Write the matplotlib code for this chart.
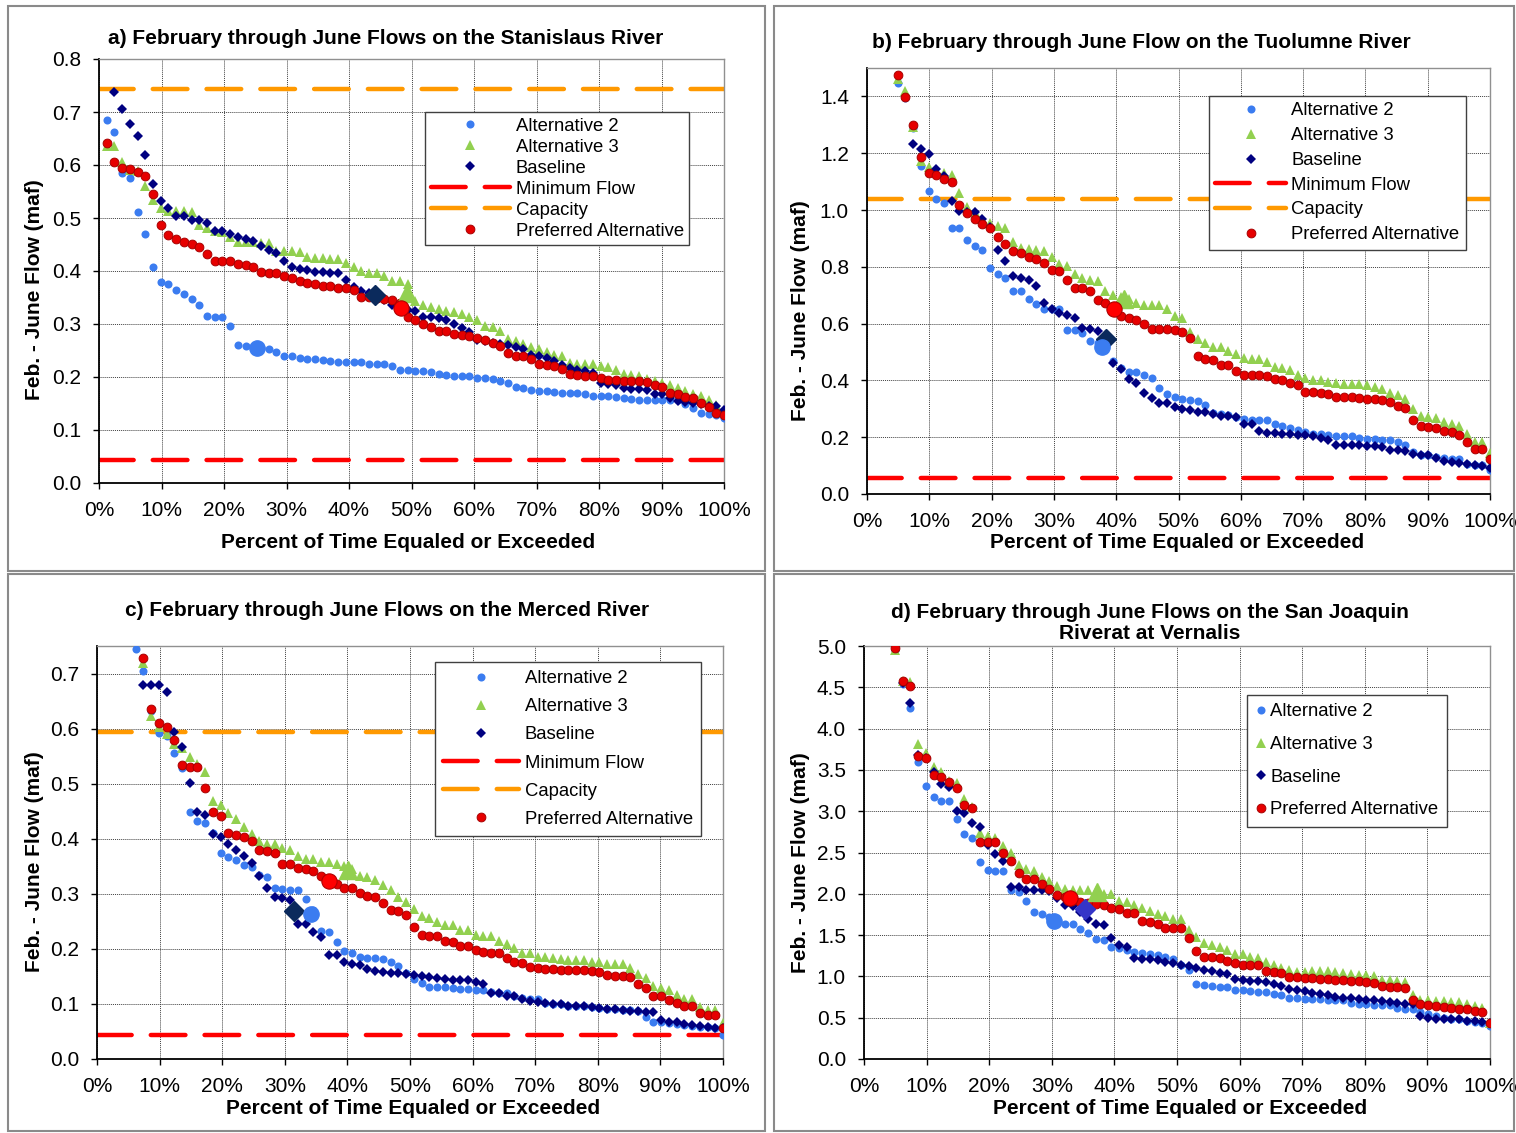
import numpy as np
import matplotlib.pyplot as plt
from matplotlib.patches import Rectangle

plt.rcParams['font.family'] = ['Liberation Sans', 'DejaVu Sans']

W, H = 1516, 1133
N_YEARS = 81          # years in the exceedance ranking, last rank = 100%

# ---------------- a) Stanislaus ----------------
a_alt2 = [0.684, 0.662, 0.584, 0.575, 0.511, 0.469, 0.408, 0.379, 0.375, 0.364,
          0.356, 0.347, 0.335, 0.316, 0.313, 0.313, 0.297, 0.260, 0.258, 0.256,
          0.254, 0.252, 0.248, 0.239, 0.239, 0.236, 0.234, 0.234, 0.233, 0.231,
          0.229, 0.228, 0.228, 0.228, 0.224, 0.224, 0.224, 0.221, 0.214, 0.213,
          0.211, 0.211, 0.209, 0.206, 0.203, 0.201, 0.201, 0.201, 0.199, 0.199,
          0.196, 0.193, 0.189, 0.181, 0.179, 0.176, 0.174, 0.173, 0.171, 0.170,
          0.169, 0.169, 0.167, 0.165, 0.165, 0.164, 0.162, 0.160, 0.159, 0.157,
          0.157, 0.157, 0.157, 0.156, 0.156, 0.149, 0.142, 0.132, 0.130, 0.128,
          0.123]
a_alt3 = [0.635, 0.635, 0.606, 0.590, 0.588, 0.561, 0.534, 0.519, 0.514, 0.514,
          0.514, 0.512, 0.486, 0.482, 0.475, 0.473, 0.465, 0.455, 0.454, 0.455,
          0.453, 0.452, 0.437, 0.438, 0.437, 0.436, 0.427, 0.425, 0.425, 0.422,
          0.422, 0.416, 0.408, 0.400, 0.396, 0.396, 0.391, 0.382, 0.381, 0.375,
          0.343, 0.336, 0.332, 0.328, 0.324, 0.322, 0.319, 0.313, 0.307, 0.296,
          0.294, 0.286, 0.272, 0.267, 0.262, 0.256, 0.252, 0.247, 0.242, 0.239,
          0.226, 0.225, 0.225, 0.225, 0.221, 0.219, 0.214, 0.206, 0.204, 0.201,
          0.196, 0.193, 0.189, 0.184, 0.179, 0.174, 0.167, 0.164, 0.156, 0.148,
          0.136]
a_base = [0.738, 0.706, 0.677, 0.655, 0.618, 0.565, 0.533, 0.518, 0.504,
          0.503, 0.496, 0.496, 0.491, 0.475, 0.475, 0.470, 0.465, 0.460, 0.457,
          0.448, 0.439, 0.434, 0.419, 0.408, 0.404, 0.401, 0.399, 0.399, 0.397,
          0.397, 0.383, 0.369, 0.362, 0.358, 0.352, 0.345, 0.336, 0.330, 0.326,
          0.324, 0.314, 0.313, 0.311, 0.307, 0.300, 0.292, 0.285, 0.269, 0.267,
          0.265, 0.262, 0.260, 0.257, 0.253, 0.242, 0.240, 0.235, 0.230, 0.223,
          0.217, 0.213, 0.211, 0.207, 0.189, 0.187, 0.184, 0.179, 0.177, 0.177,
          0.176, 0.168, 0.167, 0.160, 0.155, 0.152, 0.151, 0.149, 0.146, 0.145,
          0.138]
a_pref = [0.642, 0.606, 0.594, 0.593, 0.586, 0.580, 0.546, 0.487, 0.467, 0.461,
          0.454, 0.450, 0.445, 0.433, 0.419, 0.418, 0.418, 0.414, 0.411, 0.408,
          0.399, 0.397, 0.397, 0.391, 0.387, 0.382, 0.377, 0.376, 0.372, 0.371,
          0.368, 0.367, 0.364, 0.351, 0.350, 0.349, 0.347, 0.346, 0.340, 0.314,
          0.308, 0.300, 0.294, 0.287, 0.286, 0.281, 0.279, 0.278, 0.274, 0.269,
          0.264, 0.259, 0.245, 0.240, 0.239, 0.234, 0.225, 0.222, 0.221, 0.215,
          0.206, 0.203, 0.202, 0.201, 0.198, 0.195, 0.195, 0.193, 0.192, 0.192,
          0.191, 0.184, 0.182, 0.170, 0.167, 0.162, 0.160, 0.151, 0.143, 0.132,
          0.128]
# big markers (x %, y): alt2, alt3, baseline, preferred
a_big_x = [25.3, 49.3, 44.2, 48.3]
a_big_y = [0.254, 0.358, 0.355, 0.331]
a_min, a_cap = 0.044, 0.743

# ---------------- b) Tuolumne ----------------
b_alt2 = [1.446, 1.393, 1.287, 1.154, 1.068, 1.038, 1.024,
          0.937, 0.935, 0.894, 0.875, 0.860, 0.797, 0.776, 0.762, 0.715, 0.715,
          0.688, 0.668, 0.653, 0.650, 0.650, 0.579, 0.579, 0.567, 0.540, 0.530,
          0.520, 0.467, 0.442, 0.430, 0.430, 0.418, 0.410, 0.373, 0.352, 0.343,
          0.336, 0.332, 0.328, 0.312, 0.285, 0.280, 0.277, 0.272, 0.263, 0.260,
          0.260, 0.260, 0.245, 0.238, 0.234, 0.224, 0.218, 0.213, 0.210, 0.207,
          0.204, 0.204, 0.204, 0.197, 0.195, 0.195, 0.191, 0.189, 0.183, 0.174,
          0.148, 0.136, 0.136, 0.130, 0.127, 0.124, 0.122, 0.107, 0.103, 0.101,
          0.083]
b_alt3 = [1.461, 1.419, 1.293, 1.172, 1.150, 1.134, 1.132,
          1.125, 1.060, 1.009, 0.994, 0.970, 0.955, 0.945, 0.935, 0.888, 0.867,
          0.861, 0.859, 0.855, 0.833, 0.809, 0.802, 0.776, 0.759, 0.753, 0.749,
          0.715, 0.700, 0.692, 0.688, 0.674, 0.667, 0.667, 0.665, 0.653, 0.627,
          0.621, 0.571, 0.547, 0.533, 0.518, 0.518, 0.503, 0.494, 0.480, 0.477,
          0.474, 0.465, 0.447, 0.444, 0.436, 0.420, 0.410, 0.403, 0.403, 0.395,
          0.392, 0.389, 0.389, 0.386, 0.383, 0.377, 0.371, 0.356, 0.348, 0.336,
          0.298, 0.275, 0.271, 0.269, 0.254, 0.248, 0.240, 0.213, 0.183, 0.183,
          0.144]
b_base = [1.233, 1.214, 1.196, 1.143, 1.119,
          1.031, 0.997, 0.994, 0.994, 0.967, 0.940, 0.858, 0.821, 0.768, 0.761,
          0.755, 0.733, 0.673, 0.653, 0.638, 0.629, 0.621, 0.586, 0.580, 0.574,
          0.550, 0.462, 0.439, 0.404, 0.392, 0.356, 0.338, 0.322, 0.322, 0.307,
          0.301, 0.297, 0.289, 0.287, 0.280, 0.275, 0.274, 0.271, 0.248, 0.245,
          0.222, 0.216, 0.215, 0.213, 0.210, 0.209, 0.207, 0.203, 0.197, 0.189,
          0.174, 0.174, 0.171, 0.171, 0.169, 0.169, 0.166, 0.154, 0.154, 0.151,
          0.142, 0.136, 0.136, 0.127, 0.116, 0.113, 0.110, 0.107, 0.101, 0.097,
          0.093]
b_pref = [1.477, 1.399, 1.299, 1.185, 1.129, 1.125, 1.109,
          1.097, 1.017, 0.988, 0.970, 0.949, 0.938, 0.905, 0.881, 0.856, 0.850,
          0.833, 0.827, 0.812, 0.788, 0.784, 0.753, 0.727, 0.727, 0.715, 0.682,
          0.671, 0.660, 0.627, 0.618, 0.612, 0.600, 0.582, 0.582, 0.580, 0.577,
          0.571, 0.550, 0.486, 0.477, 0.471, 0.453, 0.453, 0.432, 0.420, 0.420,
          0.420, 0.415, 0.406, 0.400, 0.392, 0.385, 0.359, 0.359, 0.354, 0.351,
          0.342, 0.342, 0.342, 0.338, 0.336, 0.336, 0.332, 0.324, 0.310, 0.304,
          0.262, 0.240, 0.236, 0.234, 0.222, 0.218, 0.209, 0.183, 0.160, 0.160,
          0.124]
b_big_x = [37.8, 41.2, 38.3, 39.7]
b_big_y = [0.518, 0.688, 0.545, 0.651]
b_min, b_cap = 0.058, 1.040

# ---------------- c) Merced ----------------
c_alt2 = [0.745, 0.704, 0.632, 0.592, 0.586, 0.556,
          0.529, 0.449, 0.432, 0.428, 0.410, 0.374, 0.366, 0.362, 0.352, 0.348,
          0.335, 0.330, 0.310, 0.308, 0.307, 0.307, 0.290, 0.270, 0.232, 0.231,
          0.212, 0.197, 0.192, 0.186, 0.184, 0.183, 0.181, 0.177, 0.168, 0.156,
          0.145, 0.138, 0.131, 0.131, 0.131, 0.129, 0.128, 0.127, 0.126, 0.125,
          0.121, 0.120, 0.119, 0.114, 0.111, 0.109, 0.109, 0.102, 0.100, 0.099,
          0.097, 0.097, 0.096, 0.094, 0.093, 0.091, 0.091, 0.089, 0.089, 0.088,
          0.076, 0.068, 0.067, 0.065, 0.064, 0.062, 0.060, 0.059, 0.058, 0.056,
          0.043]
c_alt3 = [0.719, 0.623, 0.602, 0.590, 0.572,
          0.565, 0.549, 0.535, 0.521, 0.468, 0.461, 0.446, 0.435, 0.421, 0.408,
          0.395, 0.390, 0.390, 0.384, 0.380, 0.369, 0.363, 0.363, 0.358, 0.357,
          0.355, 0.350, 0.345, 0.332, 0.330, 0.325, 0.316, 0.307, 0.294, 0.286,
          0.272, 0.259, 0.256, 0.248, 0.244, 0.244, 0.235, 0.235, 0.226, 0.223,
          0.223, 0.215, 0.209, 0.201, 0.192, 0.192, 0.186, 0.185, 0.183, 0.182,
          0.180, 0.179, 0.179, 0.177, 0.177, 0.173, 0.173, 0.173, 0.166, 0.154,
          0.147, 0.132, 0.129, 0.125, 0.117, 0.109, 0.109, 0.094, 0.089, 0.089,
          0.065]
c_base = [0.680, 0.680, 0.679, 0.667, 0.594,
          0.567, 0.502, 0.448, 0.443, 0.408, 0.404, 0.390, 0.380, 0.368, 0.356,
          0.333, 0.310, 0.294, 0.293, 0.288, 0.245, 0.245, 0.230, 0.221, 0.189,
          0.189, 0.176, 0.173, 0.171, 0.163, 0.160, 0.158, 0.156, 0.156, 0.154,
          0.152, 0.150, 0.149, 0.147, 0.145, 0.144, 0.144, 0.143, 0.140, 0.136,
          0.119, 0.119, 0.114, 0.114, 0.109, 0.106, 0.103, 0.102, 0.100, 0.100,
          0.097, 0.097, 0.096, 0.094, 0.093, 0.091, 0.091, 0.089, 0.088, 0.088,
          0.086, 0.085, 0.071, 0.068, 0.067, 0.064, 0.061, 0.060, 0.058, 0.057,
          0.056]
c_pref = [0.729, 0.635, 0.611, 0.603, 0.579,
          0.534, 0.531, 0.530, 0.493, 0.449, 0.441, 0.410, 0.407, 0.404, 0.395,
          0.380, 0.378, 0.374, 0.354, 0.354, 0.346, 0.345, 0.342, 0.333, 0.325,
          0.317, 0.311, 0.310, 0.301, 0.296, 0.294, 0.284, 0.271, 0.268, 0.262,
          0.239, 0.226, 0.224, 0.224, 0.215, 0.213, 0.206, 0.206, 0.198, 0.194,
          0.193, 0.193, 0.184, 0.177, 0.174, 0.167, 0.165, 0.163, 0.163, 0.162,
          0.162, 0.161, 0.161, 0.160, 0.158, 0.153, 0.151, 0.150, 0.149, 0.137,
          0.129, 0.114, 0.114, 0.108, 0.102, 0.097, 0.096, 0.083, 0.080, 0.080,
          0.056]
c_big_x = [34.2, 40.1, 31.4, 37.0]
c_big_y = [0.264, 0.343, 0.268, 0.324]
c_min, c_cap = 0.043, 0.594

# ---------------- d) San Joaquin at Vernalis ----------------
d_alt2 = [4.95, 4.54, 4.25, 3.60, 3.31, 3.17, 3.12,
          3.12, 2.90, 2.72, 2.67, 2.39, 2.29, 2.28, 2.27, 2.05, 2.02,
          1.91, 1.78, 1.75, 1.72, 1.69, 1.63, 1.63, 1.57, 1.52, 1.45,
          1.44, 1.36, 1.34, 1.32, 1.29, 1.28, 1.27, 1.26, 1.24, 1.21,
          1.14, 1.08, 0.91, 0.89, 0.88, 0.87, 0.87, 0.84, 0.83, 0.82,
          0.81, 0.81, 0.79, 0.78, 0.74, 0.74, 0.73, 0.73, 0.73, 0.72,
          0.72, 0.71, 0.68, 0.67, 0.66, 0.65, 0.65, 0.65, 0.62, 0.61,
          0.60, 0.57, 0.54, 0.52, 0.50, 0.48, 0.48, 0.46, 0.45, 0.44,
          0.40]
d_alt3 = [4.95, 4.58, 4.57, 3.81, 3.70, 3.53, 3.47,
          3.37, 3.34, 3.15, 3.05, 2.74, 2.70, 2.67, 2.58, 2.49, 2.35,
          2.30, 2.27, 2.20, 2.16, 2.09, 2.06, 2.05, 2.04, 2.04, 2.03,
          2.00, 2.00, 1.91, 1.90, 1.86, 1.83, 1.79, 1.75, 1.73, 1.69,
          1.69, 1.56, 1.48, 1.40, 1.38, 1.35, 1.32, 1.27, 1.27, 1.24,
          1.22, 1.17, 1.14, 1.10, 1.08, 1.05, 1.05, 1.06, 1.06, 1.06,
          1.05, 1.04, 1.03, 1.02, 1.02, 1.01, 0.96, 0.96, 0.95, 0.93,
          0.78, 0.72, 0.71, 0.70, 0.70, 0.69, 0.69, 0.66, 0.64, 0.62,
          0.44]
d_base = [4.55, 4.31, 3.68, 3.64, 3.48, 3.33,
          3.29, 3.00, 2.98, 2.86, 2.81, 2.59, 2.48, 2.40, 2.08, 2.08,
          2.05, 2.05, 2.04, 2.03, 1.95, 1.87, 1.85, 1.78, 1.69, 1.63,
          1.62, 1.47, 1.38, 1.36, 1.22, 1.21, 1.21, 1.20, 1.18, 1.16,
          1.14, 1.13, 1.10, 1.08, 1.06, 1.04, 1.03, 0.97, 0.96, 0.95,
          0.94, 0.93, 0.91, 0.88, 0.85, 0.83, 0.82, 0.80, 0.79, 0.77,
          0.75, 0.74, 0.74, 0.73, 0.72, 0.71, 0.70, 0.69, 0.68, 0.67,
          0.66, 0.52, 0.50, 0.49, 0.48, 0.48, 0.48, 0.46, 0.46, 0.45,
          0.44]
d_pref = [4.98, 4.58, 4.52, 3.67, 3.65, 3.44, 3.42,
          3.35, 3.28, 3.08, 3.04, 2.63, 2.63, 2.63, 2.50, 2.40, 2.25,
          2.18, 2.18, 2.12, 2.06, 1.98, 1.96, 1.93, 1.90, 1.89, 1.88,
          1.86, 1.83, 1.81, 1.77, 1.77, 1.67, 1.66, 1.63, 1.58, 1.58,
          1.58, 1.47, 1.31, 1.24, 1.23, 1.22, 1.19, 1.16, 1.14, 1.14,
          1.14, 1.06, 1.05, 1.04, 0.99, 0.99, 0.98, 0.98, 0.97, 0.97,
          0.96, 0.96, 0.95, 0.94, 0.93, 0.92, 0.88, 0.87, 0.87, 0.86,
          0.71, 0.66, 0.65, 0.64, 0.63, 0.62, 0.61, 0.60, 0.58, 0.57,
          0.44]
d_big_x = [30.3, 37.2, 35.3, 32.9]
d_big_y = [1.673, 2.02, 1.81, 1.95]

pct_ticks = list(range(0, 101, 10))
labels = ['Alternative 2', 'Alternative 3', 'Baseline', 'Minimum Flow', 'Capacity',
          'Preferred Alternative']

ALT2_C = '#3b7cf0'
ALT3_C = '#92d050'
BASE_C = '#000080'
PREF_C = '#e60000'
MIN_C = '#ff0000'
CAP_C = '#ff9900'


def exceed(vals):
    # series are ranked; the last value sits at rank N_YEARS (100 %)
    rank = np.arange(N_YEARS + 1 - len(vals), N_YEARS + 1)
    return rank / N_YEARS * 100


def px_axes(fig, l, t, r, b):
    return fig.add_axes([l / W, 1 - b / H, (r - l) / W, (b - t) / H])


def panel(fig, box, alt2, alt3, base, pref, big_x, big_y, ymax, yticks,
          minflow, cap, big_d_color, leg):
    ax = px_axes(fig, *box)
    h1, = ax.plot(exceed(alt2), alt2, ls='none', marker='o', ms=5.8, mfc=ALT2_C, mec=ALT2_C, mew=0,
                  zorder=3, label=labels[0])
    h2, = ax.plot(exceed(alt3), alt3, ls='none', marker='^', ms=6.8, mfc=ALT3_C, mec=ALT3_C, mew=0,
                  zorder=3, label=labels[1])
    h3, = ax.plot(exceed(base), base, ls='none', marker='D', ms=4.6, mfc=BASE_C, mec=BASE_C, mew=0,
                  zorder=3, label=labels[2])
    hs = [h1, h2, h3]
    if minflow is not None:
        h4 = ax.axhline(minflow, color=MIN_C, lw=3.2, dashes=(7.8, 4.3), dash_capstyle='round',
                        zorder=2.5, label=labels[3])
        h5 = ax.axhline(cap, color=CAP_C, lw=3.2, dashes=(7.8, 4.3), dash_capstyle='round',
                        zorder=2.5, label=labels[4])
        hs += [h4, h5]
    h6, = ax.plot(exceed(pref), pref, ls='none', marker='o', ms=6.3, mfc=PREF_C, mec='#a80000',
                  mew=0.7, zorder=3, label=labels[5])
    hs.append(h6)

    # large markers
    ax.plot(big_x[2], big_y[2], ls='none', marker='D', ms=9.8, mfc=big_d_color, mec=big_d_color,
            zorder=4)
    ax.plot(big_x[0], big_y[0], ls='none', marker='o', ms=11, mfc=ALT2_C, mec=ALT2_C, zorder=4)
    ax.plot(big_x[1], big_y[1], ls='none', marker='^', ms=12.5, mfc=ALT3_C, mec=ALT3_C, zorder=4)
    ax.plot(big_x[3], big_y[3], ls='none', marker='o', ms=11, mfc='#ff0000', mec='#b00000',
            mew=0.8, zorder=4)

    ax.set_xlim(0, 100)
    ax.set_ylim(0, ymax)
    ax.set_xticks(pct_ticks)
    ax.set_xticklabels([f'{t}%' for t in pct_ticks])
    ax.set_yticks(yticks)
    ax.set_yticklabels([f'{t:.1f}' for t in yticks])
    ax.tick_params(direction='out', length=4, width=1, labelsize=15, color='black')
    ax.tick_params(axis='y', pad=9)
    ax.tick_params(axis='x', pad=9)
    ax.grid(True, color='#404040', lw=0.7, ls=(0, (1, 1)))
    ax.set_axisbelow(True)
    for s in ['left', 'bottom']:
        ax.spines[s].set_color('black')
        ax.spines[s].set_linewidth(1.3)
    for s in ['top', 'right']:
        ax.spines[s].set_color('#909090')
        ax.spines[s].set_linewidth(1.0)

    lg = ax.legend(handles=hs, loc='upper left', bbox_to_anchor=(leg['x'] / W, 1 - leg['y'] / H),
                   bbox_transform=fig.transFigure, borderaxespad=0, fontsize=13.3,
                   handlelength=leg['hl'], handletextpad=leg['tp'], labelspacing=leg['ls'],
                   borderpad=leg['bp'], frameon=True, fancybox=False, framealpha=1,
                   edgecolor='#404040', numpoints=1)
    lg.get_frame().set_linewidth(1.0)
    lg.set_zorder(10)
    return ax


fig = plt.figure(figsize=(W / 100, H / 100), dpi=100)

# panel frames
for (l, t, r, b) in [(8, 6, 765, 571), (774, 6, 1514, 571), (8, 574, 765, 1131),
                     (774, 574, 1514, 1131)]:
    fig.patches.append(Rectangle((l / W, 1 - b / H), (r - l) / W, (b - t) / H, fill=False,
                                 edgecolor='#8a8a8a', lw=1.5, transform=fig.transFigure))

panel(fig, (99, 59, 724, 483), a_alt2, a_alt3, a_base, a_pref, a_big_x, a_big_y, 0.8,
      np.round(np.arange(0, 0.81, 0.1), 1), a_min, a_cap, '#0b2a5c',
      dict(x=425, y=112, hl=4.3, tp=0.3, ls=0.22, bp=0.3))
panel(fig, (867, 68, 1490, 494), b_alt2, b_alt3, b_base, b_pref, b_big_x, b_big_y, 1.5,
      np.round(np.arange(0, 1.41, 0.2), 1), b_min, b_cap, '#0b2a5c',
      dict(x=1209, y=96, hl=3.8, tp=0.3, ls=0.42, bp=0.35))
panel(fig, (97, 646, 723, 1059), c_alt2, c_alt3, c_base, c_pref, c_big_x, c_big_y, 0.75,
      np.round(np.arange(0, 0.71, 0.1), 1), c_min, c_cap, '#0b2a5c',
      dict(x=435, y=662, hl=4.1, tp=0.3, ls=0.6, bp=0.45))
panel(fig, (864, 646, 1490, 1059), d_alt2, d_alt3, d_base, d_pref, d_big_x, d_big_y, 5.0,
      np.round(np.arange(0, 5.01, 0.5), 1), None, None, '#3535c8',
      dict(x=1247, y=695, hl=0.6, tp=0.2, ls=0.85, bp=0.45))

# titles
tkw = dict(fontsize=15, fontweight='bold', ha='center', va='center')
fig.text(386 / W, 1 - 39 / H, 'a) February through June Flows on the Stanislaus River', **tkw)
fig.text(1141 / W, 1 - 43 / H, 'b) February through June Flow on the Tuolumne River', **tkw)
fig.text(387 / W, 1 - 611 / H, 'c) February through June Flows on the Merced River', **tkw)
fig.text(1150 / W, 1 - 623 / H, 'd) February through June Flows on the San Joaquin\nRiverat at Vernalis',
         linespacing=1.1, **tkw)

# axis labels
for (x, y) in [(408, 543), (1177, 542), (413, 1109), (1180, 1109)]:
    fig.text(x / W, 1 - y / H, 'Percent of Time Equaled or Exceeded', **tkw)
for (x, y) in [(35, 290), (800, 311), (35, 862), (800, 863)]:
    fig.text(x / W, 1 - y / H, 'Feb. - June Flow (maf)', rotation=90, **tkw)

fig.savefig('out.png', dpi=100)
